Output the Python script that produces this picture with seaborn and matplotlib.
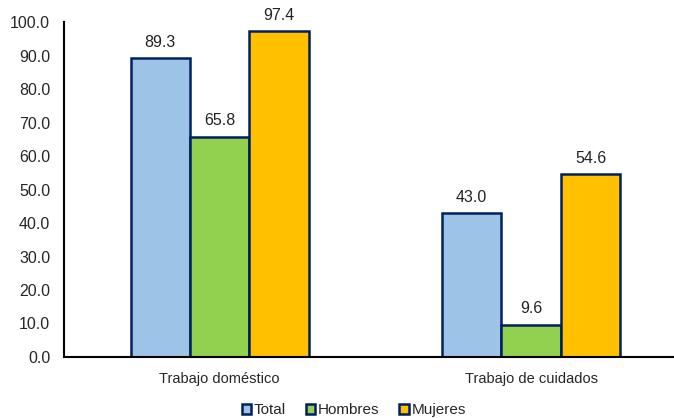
import matplotlib
matplotlib.use("Agg")
import matplotlib.pyplot as plt
import seaborn as sns
import pandas as pd

# Data
categories = ["Trabajo doméstico", "Trabajo de cuidados"]
groups = ["Total", "Hombres", "Mujeres"]
total = [89.3, 43.0]
hombres = [65.8, 9.6]
mujeres = [97.4, 54.6]
y_ticks = [0, 10, 20, 30, 40, 50, 60, 70, 80, 90, 100]

colors = ["#9DC3E6", "#92D050", "#FFC000"]
edge = "#002060"

df = pd.DataFrame({
    "categoria": categories * 3,
    "grupo": [g for g in groups for _ in categories],
    "valor": total + hombres + mujeres,
})

sns.set_theme(style="white")
plt.rcParams["font.family"] = ["Liberation Sans", "DejaVu Sans"]

fig = plt.figure(figsize=(6.74, 4.18), dpi=100)
# axes runs past the right edge of the figure, as in the reference
ax = fig.add_axes([0.095, 0.146, 0.924, 0.801])

sns.barplot(data=df, x="categoria", y="valor", hue="grupo", order=categories,
            hue_order=groups, palette=colors, saturation=1, width=0.573, gap=0,
            edgecolor=edge, linewidth=1.8, errorbar=None, ax=ax)

for cont in ax.containers:
    ax.bar_label(cont, fmt="%.1f", padding=6, fontsize=11.5, color="#222222")

ax.set_ylim(0, 100)
ax.set_xlim(-0.5, 1.5)
ax.set_yticks(y_ticks)
ax.set_yticklabels([f"{v:.1f}" for v in y_ticks], fontsize=11.5)
ax.tick_params(axis="x", labelsize=10.5, pad=11, length=0)
ax.tick_params(axis="y", pad=10, length=0)
ax.set_xlabel("")
ax.set_ylabel("")
for side in ["top", "right"]:
    ax.spines[side].set_visible(False)
ax.spines["left"].set_color("black")
ax.spines["left"].set_linewidth(1.5)
ax.spines["bottom"].set_color("black")
ax.spines["bottom"].set_linewidth(1.5)

handles, labels = ax.get_legend_handles_labels()
ax.get_legend().remove()
fig.legend(handles, labels, loc="center", bbox_to_anchor=(0.525, 0.018),
           ncol=3, frameon=False, fontsize=11, handlelength=0.6, handleheight=0.6,
           handletextpad=0.2, columnspacing=1.3, borderaxespad=0, borderpad=0)

fig.savefig("out.png", dpi=100)
